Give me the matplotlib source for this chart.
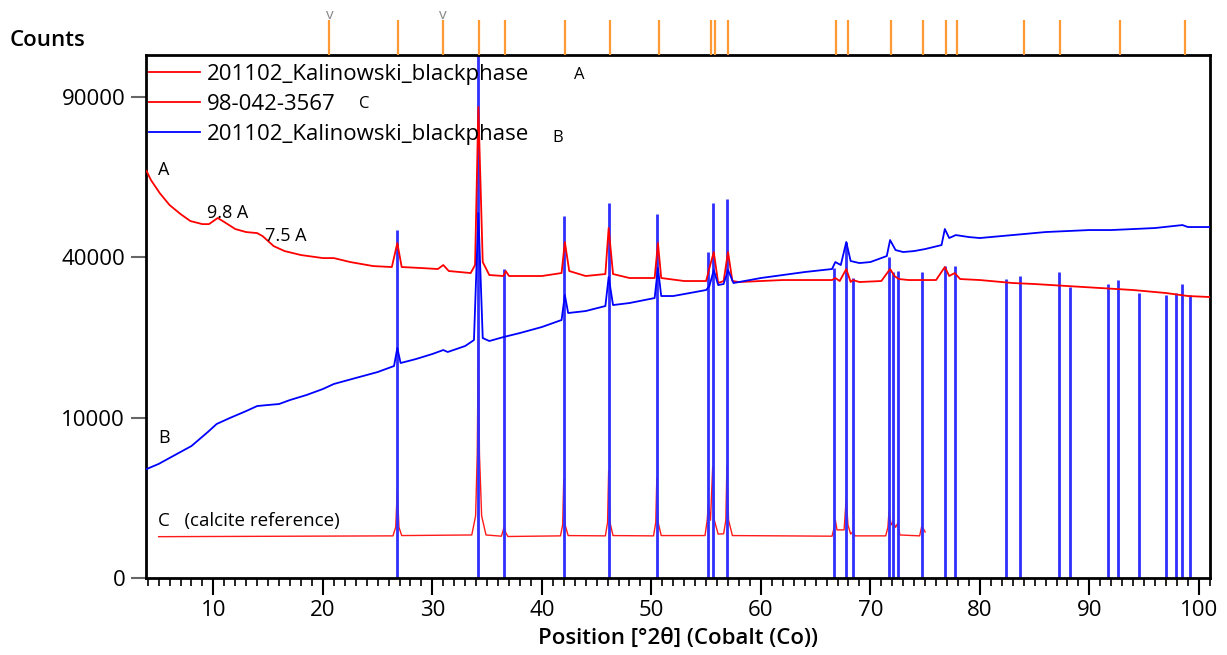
import matplotlib
matplotlib.use("Agg")
import matplotlib.pyplot as plt
import numpy as np
from matplotlib.ticker import MultipleLocator, FixedLocator, NullLocator

plt.rcParams["font.family"] = ["Open Sans", "DejaVu Sans"]

# sample A (red scan)
a_x = [3.9, 4.3, 5.1, 6.0, 7.0, 7.9, 9.0, 9.6, 10.4, 11.0, 12.0, 13.0, 14.0, 14.5,
       15.5, 16.5, 18.0, 20.0, 21.0, 22.5, 24.6, 26.3, 26.8, 27.2, 29.0, 30.5,
       31.0, 31.5, 33.5, 33.9, 34.2, 34.6, 35.2, 36.5, 36.7, 37.0, 40.0, 41.8,
       42.1, 42.5, 44.0, 45.8, 46.1, 46.5, 48.0, 50.3, 50.6, 50.9, 53.0, 55.0,
       55.3, 55.7, 56.1, 56.6, 57.0, 57.4, 58.0, 60.0, 62.0, 65.0, 66.5, 66.8,
       67.2, 67.8, 68.2, 68.4, 69.0, 71.0, 71.8, 72.2, 72.6, 73.5, 74.8, 76.0,
       76.8, 77.2, 77.7, 78.2, 80.0, 83.0, 85.0, 88.0, 91.0, 94.0, 97.0, 99.0, 101.0]
a_y = [64470, 61650, 57690, 54150, 51570, 49600, 48750, 48750, 50450, 49330, 47400,
       46580, 46310, 45500, 42890, 41610, 40600, 39840, 39840, 38860, 37870, 37640,
       43680, 37640, 37400, 37160, 38130, 36680, 36200, 38130, 86330, 38860, 35730,
       35500, 36680, 35500, 35500, 36200, 43940, 36680, 35500, 35960, 47680, 35960,
       35030, 35030, 43680, 35030, 34330, 34330, 37400, 41360, 33870, 34330, 41360,
       34330, 34100, 34330, 34560, 34560, 34560, 35030, 34330, 37160, 34100, 34560,
       34100, 34330, 37160, 35500, 34790, 34560, 34560, 34560, 37640, 35500, 36200,
       34790, 34560, 33870, 33640, 33180, 32730, 32280, 31610, 30950, 30730]

# sample B (blue scan)
b_x = [3.9, 5.0, 6.5, 8.0, 9.5, 10.3, 11.5, 13.0, 14.0, 15.0, 16.0, 17.0, 18.5,
       20.0, 21.0, 23.0, 25.0, 26.5, 26.8, 27.1, 28.5, 30.0, 31.0, 31.4, 33.0,
       33.8, 34.2, 34.6, 35.2, 36.5, 38.0, 40.0, 41.8, 42.1, 42.4, 44.0, 45.8,
       46.1, 46.5, 48.0, 50.3, 50.6, 50.9, 52.0, 54.0, 55.0, 55.3, 55.7, 56.1,
       56.6, 57.0, 57.5, 58.5, 60.0, 62.0, 64.0, 66.5, 66.8, 67.3, 67.8, 68.2,
       69.0, 70.0, 71.5, 71.8, 72.3, 73.0, 74.0, 75.0, 76.5, 76.8, 77.2, 77.8,
       79.0, 80.0, 82.0, 84.0, 86.0, 88.0, 90.0, 92.0, 94.0, 96.0, 98.5, 99.0, 101.0]
b_y = [4620, 5060, 5890, 6780, 8300, 9230, 9960, 10850, 11510, 11650, 11780, 12330,
       13030, 13900, 14650, 15570, 16510, 17490, 20590, 17990, 18660, 19530, 20230,
       19880, 20950, 22040, 51850, 22410, 21860, 22600, 23360, 24520, 25910, 31170,
       27330, 27740, 28790, 35260, 29000, 29430, 30510, 37400, 30950, 30950, 31830,
       32280, 33180, 36920, 33410, 33640, 36920, 33870, 34330, 35030, 35730, 36440,
       37160, 38860, 38130, 43940, 39110, 38610, 38860, 40350, 44460, 41860, 41360,
       41610, 42120, 43150, 47400, 44990, 45780, 45250, 44990, 45520, 46050, 46590,
       46860, 47130, 47130, 47400, 47680, 48490, 47950, 47950]

# calcite reference pattern C (simulated profile)
c_x = [5.0, 26.4, 26.65, 26.8, 26.95, 27.2, 33.6, 33.95, 34.1, 34.2, 34.3, 34.5,
       34.9, 36.3, 36.45, 36.55, 36.7, 36.9, 41.7, 41.9, 42.0, 42.12, 42.4, 45.8,
       46.0, 46.1, 46.22, 46.5, 50.2, 50.4, 50.5, 50.62, 50.9, 54.9, 55.1, 55.2,
       55.4, 55.6, 55.75, 56.1, 56.6, 56.8, 56.9, 57.05, 57.4, 66.5, 66.7, 66.8,
       66.95, 67.6, 67.8, 67.95, 68.2, 68.4, 68.6, 71.4, 71.6, 71.7, 71.9, 72.1,
       72.3, 72.5, 72.7, 74.5, 74.7, 74.9, 75.0]
c_y = [664, 690, 1000, 3010, 1000, 700, 720, 1500, 6000, 23000, 6000, 1500, 720,
       680, 850, 1024, 800, 670, 690, 1100, 3790, 1100, 700, 690, 1200, 4480, 1200,
       700, 690, 1200, 3920, 1200, 700, 700, 1300, 2130, 1300, 4770, 1300, 750, 760,
       1300, 4880, 1300, 700, 680, 1000, 1310, 900, 900, 2530, 1100, 750, 834, 690,
       690, 1000, 1710, 1100, 1233, 1000, 1164, 720, 690, 1052, 900, 823]

# blue reference sticks
stick_pos = [26.8, 34.2, 36.5, 42.0, 46.1, 50.5, 55.2, 55.6, 56.9, 66.7, 67.8, 68.4,
             71.7, 72.1, 72.5, 74.7, 76.8, 77.7, 82.4, 83.7, 87.2, 88.2, 91.7, 92.6,
             94.5, 97.0, 97.9, 98.5, 99.2]
stick_h = [47130, 120000, 37090, 51080, 54810, 51480, 41280, 54810, 55900, 37330,
           44010, 35100, 40180, 36510, 36750, 36370, 37960, 37960, 34720, 35560,
           36370, 33020, 33640, 34560, 31540, 31170, 31540, 33560, 31170]

# orange peak markers above the plot
top_pos = [20.6, 26.85, 31.0, 34.3, 36.6, 42.1, 46.2, 50.7, 55.45, 55.8, 57.0,
           66.9, 68.0, 71.9, 74.8, 76.9, 77.9, 84.0, 87.3, 92.8, 98.7]
flagged = [20.6, 31.0]

fig = plt.figure(figsize=(12.27, 6.55), dpi=100)
ax = fig.add_axes([0.119, 0.1176, 0.867, 0.7985])

ax.set_yscale("function", functions=(lambda v: np.sqrt(np.clip(v, 0, None)),
                                     lambda v: np.asarray(v) ** 2))

ax.plot(c_x, c_y, color="#ff1a1a", lw=1.0, zorder=1)
ax.vlines(stick_pos, 0, stick_h, color="#2f2fff", lw=2.0, zorder=2)
line_a, = ax.plot(a_x, a_y, color="#ff0000", lw=1.3, zorder=3)
line_b, = ax.plot(b_x, b_y, color="#0000ff", lw=1.3, zorder=4)

ax.set_xlim(3.85, 101.0)
ax.set_ylim(0, 106500)

ax.xaxis.set_major_locator(MultipleLocator(10))
ax.xaxis.set_minor_locator(MultipleLocator(1))
ax.yaxis.set_major_locator(FixedLocator([0, 10000, 40000, 90000]))
ax.yaxis.set_minor_locator(NullLocator())
ax.tick_params(axis="x", which="major", direction="out", length=12, width=1.5,
               labelsize=16, pad=4)
ax.tick_params(axis="x", which="minor", direction="out", length=6, width=1.2)
ax.tick_params(axis="y", direction="out", length=11, width=1.5, color="#666666",
               labelsize=16, pad=4)
for sp in ax.spines.values():
    sp.set_linewidth(2.0)
    sp.set_color("black")

ax.set_xlabel("Position [°2θ] (Cobalt (Co))", fontsize=16, fontweight="semibold",
              labelpad=5)
fig.text(10 / 1227, 1 - 41 / 655, "Counts", fontsize=16, fontweight="semibold",
         va="center", ha="left")

# orange ticks above the frame
trans = ax.get_xaxis_transform()
ax.vlines(top_pos, 1.0, 1.067, transform=trans, color="#ff9933", lw=1.6,
          clip_on=False, zorder=5)
for p in flagged:
    ax.text(p, 1.062, "v", transform=trans, color="#888888", fontsize=11,
            ha="center", va="bottom", clip_on=False)

# legend
leg = ax.legend([line_a, line_a, line_b],
                ["201102_Kalinowski_blackphase", "98-042-3567",
                 "201102_Kalinowski_blackphase"],
                loc="upper left", bbox_to_anchor=(0.0, 0.99), frameon=False,
                fontsize=16, handlelength=2.3, handletextpad=0.3,
                labelspacing=0.42, borderaxespad=0.0, borderpad=0.15)
ax.text(0.402, 0.962, "A", transform=ax.transAxes, fontsize=12, va="center")
ax.text(0.200, 0.906, "C", transform=ax.transAxes, fontsize=12, va="center")
ax.text(0.382, 0.842, "B", transform=ax.transAxes, fontsize=12, va="center")

# annotations
ax.text(4.93, 64800, "A", fontsize=13, va="center")
ax.text(9.4, 51850, "9.8 A", fontsize=13, va="center")
ax.text(14.7, 45520, "7.5 A", fontsize=13, va="center")
ax.text(4.93, 7630, "B", fontsize=13, va="center")
ax.text(4.93, 1264, "C   (calcite reference)", fontsize=13.5, va="center")

fig.savefig("out.png", dpi=100)
